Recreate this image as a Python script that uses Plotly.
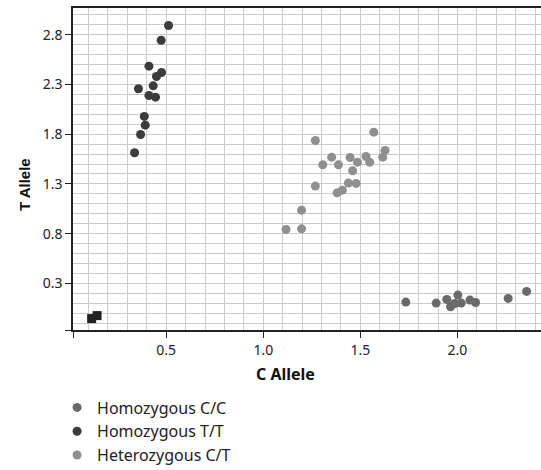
import plotly.graph_objects as go

# Homozygous C/C
cc_x = [1.734, 1.890, 1.945, 1.964, 1.986, 2.002, 2.019, 2.064, 2.093, 2.261, 2.356]
cc_y = [0.111, 0.101, 0.138, 0.064, 0.097, 0.181, 0.101, 0.131, 0.107, 0.148, 0.218]

# Homozygous T/T
tt_x = [0.512, 0.474, 0.411, 0.476, 0.450, 0.357, 0.433, 0.411, 0.445, 0.387, 0.392, 0.368, 0.337]
tt_y = [2.894, 2.746, 2.485, 2.421, 2.381, 2.257, 2.287, 2.190, 2.173, 1.979, 1.891, 1.797, 1.613]

# Heterozygous C/T
ct_x = [1.268, 1.569, 1.352, 1.306, 1.387, 1.447, 1.485, 1.529, 1.548, 1.627, 1.615,
        1.460, 1.268, 1.438, 1.478, 1.407, 1.380, 1.197, 1.117, 1.197]
ct_y = [1.737, 1.821, 1.569, 1.492, 1.492, 1.566, 1.519, 1.576, 1.519, 1.637, 1.569,
        1.432, 1.278, 1.308, 1.305, 1.237, 1.210, 1.036, 0.842, 0.848]

# No-template controls (squares)
ntc_x = [0.116, 0.144]
ntc_y = [-0.055, -0.025]

x_ticks = [0.5, 1.0, 1.5, 2.0]
y_ticks = [0.3, 0.8, 1.3, 1.8, 2.3, 2.8]
x_range = [0.02, 2.43]
y_range = [-0.17, 3.07]

FONT = "Noto Sans"
grid_col = "#cbcbcb"

fig = go.Figure()
fig.add_trace(go.Scatter(x=cc_x, y=cc_y, mode="markers", name="Homozygous C/C",
                         marker=dict(color="#6a6a6a", size=9)))
fig.add_trace(go.Scatter(x=tt_x, y=tt_y, mode="markers", name="Homozygous T/T",
                         marker=dict(color="#3c3c3c", size=9)))
fig.add_trace(go.Scatter(x=ct_x, y=ct_y, mode="markers", name="Heterozygous C/T",
                         marker=dict(color="#8f8f8f", size=9)))
fig.add_trace(go.Scatter(x=ntc_x, y=ntc_y, mode="markers", showlegend=False,
                         marker=dict(color="#222222", size=9, symbol="square")))

fig.update_layout(
    width=541, height=470,
    margin=dict(l=73, r=0, t=8, b=140, autoexpand=False),
    paper_bgcolor="white", plot_bgcolor="white",
    font=dict(family=FONT, size=14, color="#222"),
    legend=dict(x=-0.034, xanchor="left", y=-0.188, yanchor="top",
                font=dict(size=16, color="#222"), tracegroupgap=0,
                itemwidth=30),
    showlegend=True,
    annotations=[
        dict(text="<b>C Allele</b>", xref="paper", yref="paper",
             x=0.453, y=-0.1366, xanchor="center", yanchor="middle",
             showarrow=False, font=dict(family=FONT, size=16, color="#111")),
        dict(text="<b>T Allele</b>", xref="paper", yref="paper",
             x=-0.1047, y=0.450, xanchor="center", yanchor="middle",
             textangle=-90, showarrow=False,
             font=dict(family="Liberation Sans", size=15, color="#111")),
    ],
)
fig.update_xaxes(
    range=x_range,
    tickmode="array", tickvals=[x_range[0]] + x_ticks,
    ticktext=[""] + [f"{v:.1f}" for v in x_ticks],
    ticks="outside", ticklen=6, tickcolor="#222",
    showline=True, linecolor="#222", linewidth=1.5, mirror=True,
    showgrid=True, gridcolor=grid_col, gridwidth=1,
    minor=dict(tickmode="linear", tick0=0, dtick=0.1, showgrid=True,
               gridcolor=grid_col, gridwidth=1, ticks=""),
    zeroline=False,
)
fig.update_yaxes(
    range=y_range,
    tickmode="array", tickvals=[y_range[0]] + y_ticks,
    ticktext=[""] + [f"{v:.1f}" for v in y_ticks],
    ticks="outside", ticklen=6, tickcolor="#222",
    showline=True, linecolor="#222", linewidth=1.5,
    showgrid=True, gridcolor=grid_col, gridwidth=1,
    minor=dict(tickmode="linear", tick0=0, dtick=0.1, showgrid=True,
               gridcolor=grid_col, gridwidth=1, ticks=""),
    zeroline=False,
)

fig.write_html("out.html")
